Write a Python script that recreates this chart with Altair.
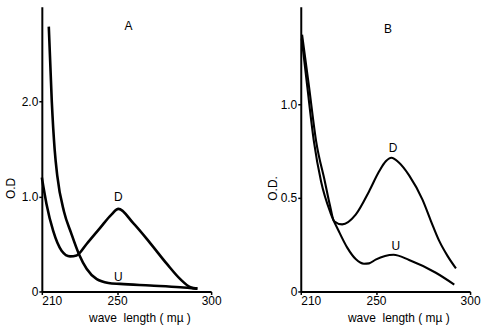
import altair as alt
import pandas as pd

FONT = "Liberation Sans"

# ---------------- Panel A ----------------
a_d_wl = [210, 212.5, 216, 220.5, 225, 228.5, 233.8, 241, 247, 250.7, 258.6, 267.6, 276.5, 283.6, 289, 292.7]
a_d_od = [1.20, 0.92, 0.64, 0.43, 0.37, 0.38, 0.50, 0.67, 0.81, 0.87, 0.72, 0.51, 0.29, 0.13, 0.045, 0.03]

a_u_wl = [213.7, 215.3, 216.8, 218.2, 221.8, 225.5, 229.8, 233.8, 239.2, 245.4, 251.6, 267.6, 283.6, 292.7]
a_u_od = [2.79, 2.00, 1.50, 1.22, 0.84, 0.62, 0.39, 0.24, 0.13, 0.09, 0.08, 0.063, 0.045, 0.03]

a_ann_text = ["A", "D", "U"]
a_ann_wl = [256, 250.7, 250.7]
a_ann_od = [2.80, 0.99, 0.15]

# ---------------- Panel B ----------------
b_d_wl = [210.7, 214.3, 218.2, 222.8, 225.5, 227.7, 232, 239.2, 246.3, 251.6, 255.2, 258.2, 262, 267.6, 274.7, 279.2, 283.6, 288, 292.5]
b_d_od = [1.37, 1.10, 0.80, 0.587, 0.46, 0.375, 0.358, 0.41, 0.534, 0.64, 0.695, 0.714, 0.69, 0.62, 0.49, 0.376, 0.27, 0.19, 0.123]

b_u_wl = [210.5, 213.5, 217, 220.8, 225.8, 230.3, 234.7, 239.2, 243.6, 246.3, 249.8, 259.3, 267.6, 281.8, 291.6]
b_u_od = [1.35, 1.09, 0.80, 0.587, 0.42, 0.32, 0.234, 0.173, 0.148, 0.15, 0.17, 0.196, 0.168, 0.10, 0.037]

b_ann_text = ["B", "D", "U"]
b_ann_wl = [256.3, 259, 260.5]
b_ann_od = [1.40, 0.763, 0.243]

x_ticks = [210, 250, 300]
a_y_ticks = [0, 1.0, 2.0]
b_y_ticks = [0, 0.5, 1.0]

x_title = "wave\u00a0 length ( m\u00b5 )"


def curves(d_wl, d_od, u_wl, u_od):
    rows = []
    for w, o in zip(d_wl, d_od):
        rows.append({"series": "D", "wl": w, "od": o})
    for w, o in zip(u_wl, u_od):
        rows.append({"series": "U", "wl": w, "od": o})
    return pd.DataFrame(rows)


def panel(df, ann, ydom, yticks, ytitle, ytitle_pad, stroke_w):
    xs = alt.Scale(domain=[210, 300], nice=False, zero=False)
    ys = alt.Scale(domain=ydom, nice=False)
    xaxis = alt.Axis(values=x_ticks, format="d", title=x_title, titleX=98,
                     labelFlush=False, titlePadding=6,
                     labelAlign=alt.condition("datum.value == 210",
                                              alt.value("left"), alt.value("center")))
    yaxis = alt.Axis(values=yticks, title=ytitle, titlePadding=ytitle_pad,
                     titleY=182, labelFlush=False,
                     labelExpr="datum.value == 0 ? '0' : format(datum.value, '.1f')")
    line = alt.Chart(df).mark_line(color="black", strokeWidth=stroke_w,
                                   interpolate="monotone").encode(
        x=alt.X("wl:Q", scale=xs, axis=xaxis),
        y=alt.Y("od:Q", scale=ys, axis=yaxis),
        detail="series:N",
    )
    text = alt.Chart(ann).mark_text(font=FONT, fontSize=12, color="black").encode(
        x=alt.X("wl:Q", scale=xs),
        y=alt.Y("od:Q", scale=ys),
        text="t:N",
    )
    return alt.layer(line, text).properties(width=170, height=286)


df_a = curves(a_d_wl, a_d_od, a_u_wl, a_u_od)
df_b = curves(b_d_wl, b_d_od, b_u_wl, b_u_od)
ann_a = pd.DataFrame({"t": a_ann_text, "wl": a_ann_wl, "od": a_ann_od})
ann_b = pd.DataFrame({"t": b_ann_text, "wl": b_ann_wl, "od": b_ann_od})

pa = panel(df_a, ann_a, [0, 3.0], a_y_ticks, "O.D", 4, 2.6)
pb = panel(df_b, ann_b, [0, 1.52], b_y_ticks, "O.D.", 1, 2.1)

chart = alt.hconcat(pa, pb, spacing=90, bounds="flush").properties(
    padding={"left": 3, "top": 5, "right": 5, "bottom": 5}
).configure_view(stroke="transparent").configure_axis(
    grid=False,
    domainColor="black",
    domainWidth=2,
    tickColor="black",
    tickWidth=1.5,
    tickSize=3,
    labelColor="black",
    labelFont=FONT,
    labelFontSize=12,
    labelPadding=1,
    titleColor="black",
    titleFont=FONT,
    titleFontSize=12,
    titleFontWeight="normal",
)

chart.save("out.html", embed_options={"renderer": "svg", "actions": False})
